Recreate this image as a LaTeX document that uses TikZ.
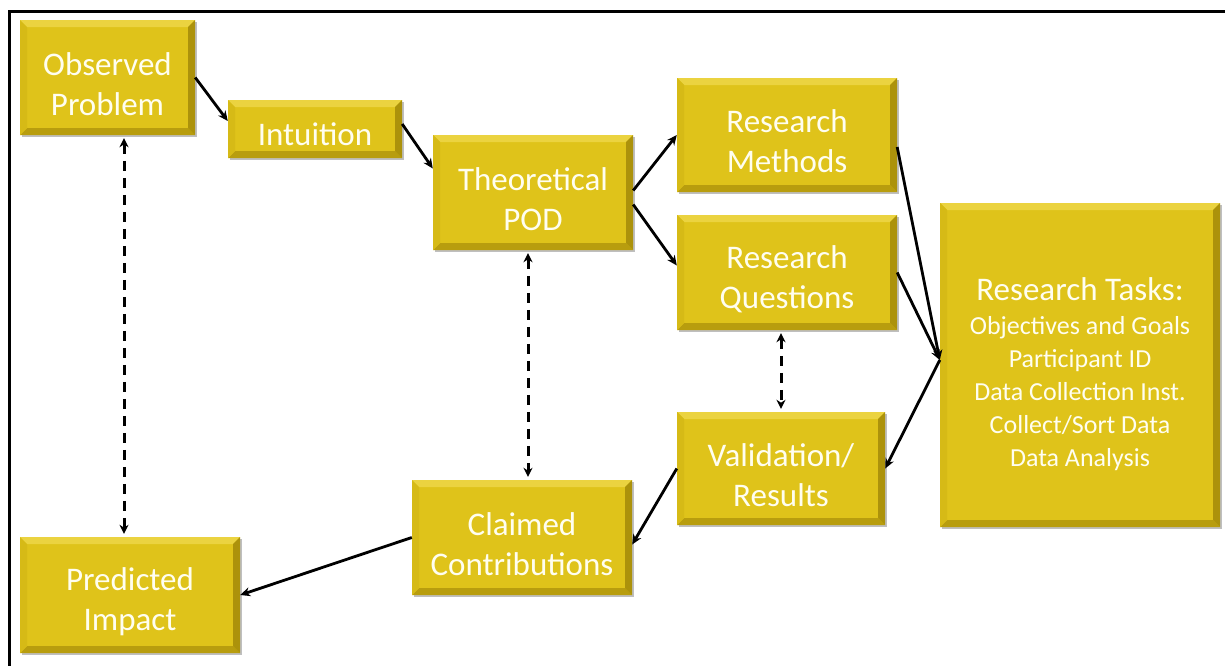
\documentclass[tikz,border=0pt]{standalone}
\usepackage{fontspec}
\setmainfont{Carlito}
\usetikzlibrary{arrows.meta,shadows,calc}
\definecolor{boxfill}{HTML}{DFC31A}
\definecolor{bevT}{HTML}{EBD340}
\definecolor{bevL}{HTML}{D6BA16}
\definecolor{bevB}{HTML}{B89D0E}
\definecolor{bevR}{HTML}{AC920B}
\definecolor{txt}{HTML}{FFFEF0}
\newcommand{\bw}{7pt}
\newcommand{\sm}{\fontsize{26}{33}\selectfont}
\newcommand{\fl}[1]{\rule{0pt}{#1}}
\tikzset{
  box/.style={rectangle, inner sep=0pt, fill=boxfill, text=txt, align=center,
    font=\fontsize{33}{40}\selectfont,
    drop shadow={shadow xshift=1.5pt, shadow yshift=-2pt, fill=black, opacity=0.25},
    path picture={
      \path (path picture bounding box.north west) coordinate (pNW)
            (path picture bounding box.north east) coordinate (pNE)
            (path picture bounding box.south west) coordinate (pSW)
            (path picture bounding box.south east) coordinate (pSE);
      \fill[bevT] (pNW) -- (pNE) -- ([shift={(-\bw,-\bw)}]pNE) -- ([shift={(\bw,-\bw)}]pNW) -- cycle;
      \fill[bevB] (pSW) -- (pSE) -- ([shift={(-\bw,\bw)}]pSE) -- ([shift={(\bw,\bw)}]pSW) -- cycle;
      \fill[bevL] (pNW) -- (pSW) -- ([shift={(\bw,\bw)}]pSW) -- ([shift={(\bw,-\bw)}]pNW) -- cycle;
      \fill[bevR] (pNE) -- (pSE) -- ([shift={(-\bw,\bw)}]pSE) -- ([shift={(-\bw,-\bw)}]pNE) -- cycle;
    }},
  conn/.style={line width=2.8pt, -{Stealth[length=10pt,width=9pt]}},
  dconn/.style={line width=3pt, dash pattern=on 10pt off 7pt,
    {Stealth[length=9pt,width=9pt]}-{Stealth[length=9pt,width=9pt]}, shorten <=3pt, shorten >=3pt},
}
\begin{document}
\begin{tikzpicture}[x=1pt,y=1pt]
\useasboundingbox (0,0) rectangle (1225,-665);
\fill[white] (0,0) rectangle (1225,-665);
\draw[line width=3.2pt] (9.5,-670) -- (9.5,-11.5) -- (1230,-11.5);

\node[box, minimum width=175pt, minimum height=115pt] (obs) at (107.5,-77.5) {\fl{36pt}Observed\\Problem};
\node[box, minimum width=174pt, minimum height=58pt, execute at begin node={\rule{0pt}{33pt}}] (intu) at (315,-129) {Intuition};
\node[box, minimum width=200pt, minimum height=115pt] (theo) at (533,-192.5) {\fl{36pt}Theoretical\\POD};
\node[box, minimum width=220pt, minimum height=114pt] (meth) at (787,-135) {\fl{36pt}Research\\Methods};
\node[box, minimum width=220pt, minimum height=115pt] (ques) at (787,-272.5) {\fl{36pt}Research\\Questions};
\node[box, minimum width=208pt, minimum height=113pt] (vali) at (781,-468.5) {\fl{36pt}Validation/\\Results};
\node[box, minimum width=280pt, minimum height=324pt] (tasks) at (1080,-365) {\fl{42pt}Research Tasks:\\[-6pt]\sm Objectives and Goals\\[-7pt]\sm Participant ID\\[-7pt]\sm Data Collection Inst.\\[-7pt]\sm Collect/Sort Data\\[-7pt]\sm Data Analysis};
\node[box, minimum width=220pt, minimum height=115pt] (claim) at (522,-537.5) {\fl{36pt}Claimed\\Contributions};
\node[box, minimum width=220pt, minimum height=116pt] (pred) at (130,-595) {\fl{36pt}Predicted\\Impact};

\coordinate (conv) at ([yshift=5pt]tasks.west);

\draw[conn] (obs.east) -- ([yshift=8pt]intu.west);
\draw[conn] ([yshift=5pt]intu.east) -- ([yshift=24pt]theo.west);
\draw[conn] ([yshift=2pt]theo.east) -- (meth.west);
\draw[conn] ([yshift=-12pt]theo.east) -- ([yshift=7pt]ques.west);
\draw[conn] ([yshift=-12pt]meth.east) -- (conv);
\draw[conn] (ques.east) -- (conv);
\draw[conn] (conv) -- (vali.east);
\draw[conn] (vali.west) -- ([yshift=-7pt]claim.east);
\draw[conn] (claim.west) -- (pred.east);

\draw[dconn] ([xshift=16.5pt]obs.south) -- ([xshift=-6pt]pred.north);
\draw[dconn] ([xshift=-5pt]theo.south) -- ([xshift=6pt]claim.north);
\draw[dconn] ([xshift=-6pt]ques.south) -- (vali.north);
\end{tikzpicture}
\end{document}
